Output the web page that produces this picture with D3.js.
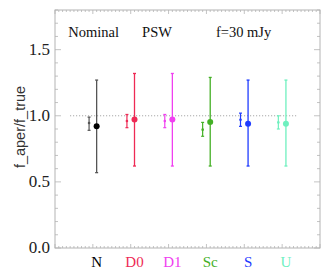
<!DOCTYPE html>
<html>
<head>
<meta charset="utf-8">
<script src="https://cdn.jsdelivr.net/npm/d3@7"></script>
<style>
  body { margin: 0; background: #fff; }
  svg { display: block; }
</style>
</head>
<body>
<div class="canvas"></div>
<script>
// data
const categories = ['N', 'D0', 'D1', 'Sc', 'S', 'U'];
const colours = ['#000000', '#ee2a55', '#f040f0', '#44b026', '#1f3cff', '#6ff0bf'];
const mainValue = [0.92, 0.972, 0.972, 0.952, 0.94, 0.94];
const mainUpper = [1.27, 1.32, 1.32, 1.29, 1.27, 1.27];
const mainLower = [0.57, 0.62, 0.62, 0.62, 0.62, 0.62];
const smallValue = [0.945, 0.96, 0.96, 0.895, 0.97, 0.95];
const smallUpper = [0.99, 1.01, 1.01, 0.95, 1.02, 1.0];
const smallLower = [0.89, 0.91, 0.91, 0.845, 0.92, 0.90];
const yTicks = [0.0, 0.5, 1.0, 1.5];
const notes = [
  { text: 'Nominal', x: -0.65 },
  { text: 'PSW', x: 1.3 },
  { text: 'f=30 mJy', x: 3.25 }
];

const dims = { width: 327, height: 272 };
const box = { left: 55, right: 320, top: 10, bottom: 248 };

const svg = d3.select('.canvas')
  .append('svg')
  .attr('width', dims.width)
  .attr('height', dims.height);

const x = d3.scaleLinear().domain([-1, 6]).range([box.left, box.right]);
const y = d3.scaleLinear().domain([0, 1.8]).range([box.bottom, box.top]);

const axisCol = '#b4b4b4';

// frame
svg.append('rect')
  .attr('x', box.left).attr('y', box.top)
  .attr('width', box.right - box.left).attr('height', box.bottom - box.top)
  .attr('fill', 'none').attr('stroke', axisCol).attr('stroke-width', 1);

// x ticks (top and bottom, inward)
const xMinor = d3.range(-10, 61).map(d => d / 10);
xMinor.forEach(v => {
  const major = Math.abs(v - Math.round(v)) < 1e-6;
  const len = major ? 4 : 2;
  [[box.bottom, -len], [box.top, len]].forEach(([y0, dl]) => {
    svg.append('line')
      .attr('x1', x(v)).attr('x2', x(v))
      .attr('y1', y0).attr('y2', y0 + dl)
      .attr('stroke', axisCol).attr('stroke-width', 0.8);
  });
});

// y ticks (left and right, inward)
const yMinor = d3.range(0, 19).map(d => d / 10);
yMinor.forEach(v => {
  const major = Math.abs(v * 2 - Math.round(v * 2)) < 1e-6;
  const len = major ? 6 : 3;
  [[box.left, len], [box.right, -len]].forEach(([x0, dl]) => {
    svg.append('line')
      .attr('x1', x0).attr('x2', x0 + dl)
      .attr('y1', y(v)).attr('y2', y(v))
      .attr('stroke', axisCol).attr('stroke-width', 0.8);
  });
});

// y tick labels
svg.selectAll('text.ytick')
  .data(yTicks)
  .enter().append('text')
    .attr('class', 'ytick')
    .attr('x', box.left - 5)
    .attr('y', d => y(d) + 5)
    .attr('text-anchor', 'end')
    .attr('font-family', '"Liberation Serif", serif')
    .attr('font-size', 17)
    .attr('fill', '#222')
    .text(d => d.toFixed(1));

// y title
svg.append('text')
  .attr('transform', `translate(25, ${(box.top + box.bottom) / 2 - 2}) rotate(-90)`)
  .attr('text-anchor', 'middle')
  .attr('font-family', '"Liberation Sans", sans-serif')
  .attr('font-size', 14.5)
  .attr('fill', '#333')
  .text('f_aper/f_true');

// reference line at 1
svg.append('line')
  .attr('x1', x(-0.6)).attr('x2', x(5.4))
  .attr('y1', y(1)).attr('y2', y(1))
  .attr('stroke', '#999').attr('stroke-width', 1)
  .attr('stroke-dasharray', '1,2');

// annotations
svg.selectAll('text.note')
  .data(notes)
  .enter().append('text')
    .attr('class', 'note')
    .attr('x', d => x(d.x))
    .attr('y', 37)
    .attr('font-family', '"Liberation Serif", serif')
    .attr('font-size', 14.5)
    .attr('fill', '#111')
    .text(d => d.text);

// error bars
const drawBar = (g, xv, lo, hi, col, cap, width) => {
  g.append('line')
    .attr('x1', x(xv)).attr('x2', x(xv))
    .attr('y1', y(lo)).attr('y2', y(hi))
    .attr('stroke', col).attr('stroke-width', width);
  [lo, hi].forEach(v => {
    g.append('line')
      .attr('x1', x(xv) - cap).attr('x2', x(xv) + cap)
      .attr('y1', y(v)).attr('y2', y(v))
      .attr('stroke', col).attr('stroke-width', width);
  });
};

categories.forEach((c, i) => {
  const g = svg.append('g');
  const col = colours[i];
  const light = i === 0 ? '#555' : col;
  // small bar, left of the tick
  drawBar(g, i - 0.1, smallLower[i], smallUpper[i], light, 1.5, 1.2);
  g.append('circle')
    .attr('cx', x(i - 0.1)).attr('cy', y(smallValue[i]))
    .attr('r', 1.3).attr('fill', light);
  // main bar, right of the tick
  drawBar(g, i + 0.1, mainLower[i], mainUpper[i], light, 1.5, 1.3);
  g.append('circle')
    .attr('cx', x(i + 0.1)).attr('cy', y(mainValue[i]))
    .attr('r', 3).attr('fill', col);
  // category label
  g.append('text')
    .attr('x', x(i + 0.1))
    .attr('y', 267)
    .attr('text-anchor', 'middle')
    .attr('font-family', '"Liberation Serif", serif')
    .attr('font-size', 15)
    .attr('fill', col)
    .text(c);
});
</script>
</body>
</html>
